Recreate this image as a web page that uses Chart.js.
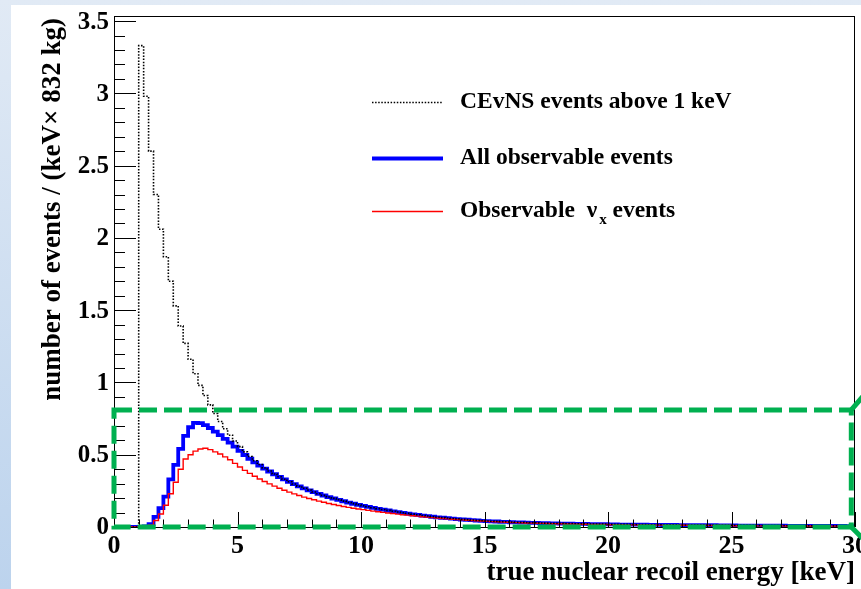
<!DOCTYPE html>
<html>
<head>
<meta charset="utf-8">
<script src="https://cdn.jsdelivr.net/npm/chart.js@4.4.1/dist/chart.umd.min.js"></script>
<style>
  html, body { margin: 0; padding: 0; }
  body {
    width: 861px; height: 589px; overflow: hidden; position: relative;
    background: linear-gradient(to bottom, #e1eaf5, #bcd3ed);
  }
  #panel { position: absolute; left: 11px; top: 5px; right: 0; bottom: 0; background: #fff; }
  #chart { position: absolute; left: 0; top: 0; }
</style>
</head>
<body>
<div id="panel"></div>
<canvas id="chart" width="861" height="589"></canvas>
<script>
// Recoil spectra, 0.2 keV bins from 0 to 30 keV (value = events per bin)
const binWidth = 0.2;

// CEvNS events above 1 keV
const cevnsAbove1keV = [
  0, 0, 0, 0, 0, 3.33, 2.98, 2.60, 2.30, 2.06,
  1.87, 1.70, 1.53, 1.39, 1.27, 1.16, 1.06, 0.98, 0.91, 0.845,
  0.785, 0.73, 0.68, 0.635, 0.595, 0.556, 0.52, 0.488, 0.458, 0.432,
  0.408, 0.387, 0.367, 0.348, 0.330, 0.313, 0.297, 0.282, 0.268, 0.255,
  0.242, 0.230, 0.219, 0.208, 0.198, 0.188, 0.179, 0.170, 0.162, 0.154,
  0.147, 0.140, 0.133, 0.127, 0.121, 0.115, 0.109, 0.104, 0.099, 0.094,
  0.089, 0.085, 0.080, 0.076, 0.072, 0.068, 0.065, 0.062, 0.059, 0.056,
  0.053, 0.051, 0.048, 0.046, 0.044, 0.042, 0.040, 0.039, 0.037, 0.036,
  0.034, 0.033, 0.032, 0.031, 0.030, 0.029, 0.028, 0.027, 0.026, 0.026,
  0.025, 0.024, 0.024, 0.023, 0.022, 0.022, 0.021, 0.021, 0.020, 0.020,
  0.019, 0.019, 0.018, 0.018, 0.018, 0.017, 0.017, 0.017, 0.016, 0.016,
  0.016, 0.015, 0.015, 0.015, 0.014, 0.014, 0.014, 0.014, 0.013, 0.013,
  0.013, 0.013, 0.012, 0.012, 0.012, 0.012, 0.011, 0.011, 0.011, 0.011,
  0.011, 0.010, 0.010, 0.010, 0.010, 0.010, 0.009, 0.009, 0.009, 0.009,
  0.009, 0.009, 0.008, 0.008, 0.008, 0.008, 0.008, 0.007, 0.007, 0.007
];

// All observable events
const allObservable = [
  0, 0, 0, 0, 0, 0, 0.004, 0.02, 0.07, 0.13,
  0.21, 0.33, 0.43, 0.54, 0.63, 0.69, 0.72, 0.718, 0.705, 0.685,
  0.66, 0.636, 0.61, 0.583, 0.556, 0.527, 0.498, 0.472, 0.447, 0.425,
  0.404, 0.384, 0.365, 0.346, 0.329, 0.312, 0.296, 0.281, 0.267, 0.254,
  0.241, 0.229, 0.218, 0.207, 0.197, 0.187, 0.178, 0.169, 0.161, 0.153,
  0.146, 0.139, 0.132, 0.126, 0.120, 0.114, 0.108, 0.103, 0.098, 0.093,
  0.088, 0.084, 0.079, 0.075, 0.071, 0.067, 0.064, 0.061, 0.058, 0.055,
  0.052, 0.050, 0.047, 0.045, 0.043, 0.041, 0.039, 0.038, 0.036, 0.035,
  0.033, 0.032, 0.031, 0.030, 0.029, 0.028, 0.027, 0.026, 0.025, 0.025,
  0.024, 0.023, 0.023, 0.022, 0.021, 0.021, 0.020, 0.020, 0.019, 0.019,
  0.018, 0.018, 0.017, 0.017, 0.017, 0.016, 0.016, 0.016, 0.015, 0.015,
  0.015, 0.014, 0.014, 0.014, 0.013, 0.013, 0.013, 0.013, 0.012, 0.012,
  0.012, 0.012, 0.011, 0.011, 0.011, 0.011, 0.010, 0.010, 0.010, 0.010,
  0.010, 0.009, 0.009, 0.009, 0.009, 0.009, 0.008, 0.008, 0.008, 0.008,
  0.008, 0.008, 0.007, 0.007, 0.007, 0.007, 0.007, 0.007, 0.006, 0.006
];

// Observable nu_x events
const observableNuX = [
  0, 0, 0, 0, 0, 0, 0.003, 0.012, 0.045, 0.09,
  0.15, 0.23, 0.31, 0.40, 0.47, 0.50, 0.525, 0.54, 0.545, 0.535,
  0.52, 0.505, 0.485, 0.465, 0.44, 0.415, 0.392, 0.371, 0.351, 0.332,
  0.315, 0.298, 0.283, 0.268, 0.254, 0.241, 0.229, 0.218, 0.207, 0.197,
  0.188, 0.179, 0.171, 0.163, 0.156, 0.149, 0.142, 0.136, 0.130, 0.125,
  0.120, 0.115, 0.110, 0.105, 0.101, 0.097, 0.093, 0.089, 0.085, 0.082,
  0.078, 0.075, 0.071, 0.068, 0.065, 0.062, 0.059, 0.056, 0.054, 0.051,
  0.049, 0.047, 0.045, 0.043, 0.041, 0.039, 0.037, 0.036, 0.034, 0.033,
  0.031, 0.030, 0.029, 0.028, 0.027, 0.026, 0.025, 0.024, 0.023, 0.023,
  0.022, 0.021, 0.021, 0.020, 0.019, 0.019, 0.018, 0.018, 0.017, 0.017,
  0.016, 0.016, 0.016, 0.015, 0.015, 0.015, 0.014, 0.014, 0.014, 0.013,
  0.013, 0.013, 0.013, 0.012, 0.012, 0.012, 0.011, 0.011, 0.011, 0.011,
  0.010, 0.010, 0.010, 0.010, 0.010, 0.009, 0.009, 0.009, 0.009, 0.009,
  0.008, 0.008, 0.008, 0.008, 0.008, 0.008, 0.007, 0.007, 0.007, 0.007,
  0.007, 0.007, 0.006, 0.006, 0.006, 0.006, 0.006, 0.006, 0.005, 0.005
];

const xTickValues = [0, 5, 10, 15, 20, 25, 30];
const xTickLabels = ['0', '5', '10', '15', '20', '25', '30'];
const yTickValues = [0, 0.5, 1, 1.5, 2, 2.5, 3, 3.5];
const yTickLabels = ['0', '0.5', '1', '1.5', '2', '2.5', '3', '3.5'];

const xTitle = 'true nuclear recoil energy [keV]';
const yTitle = 'number of events / (keV\u00d7 832 kg)';

// region of interest marked with a dashed box (data units)
const roi = { xMin: 0, xMax: 29.85, yMin: 0, yMax: 0.81 };

const SERIF = '"Liberation Serif", "Times New Roman", serif';

const styles = {
  cevns: { color: 'rgb(0,0,0)', width: 1.6, dash: [1.5, 1.6] },
  all: { color: 'rgb(0,0,255)', width: 3.8, dash: [] },
  nux: { color: 'rgb(255,0,0)', width: 1.4, dash: [] }
};

// histogram outline: one point per left bin edge plus the closing edge
function histPoints(values) {
  const pts = values.map((v, i) => ({ x: +(i * binWidth).toFixed(2), y: v }));
  pts.push({ x: +(values.length * binWidth).toFixed(2), y: values[values.length - 1] });
  return pts;
}

// ROOT-style frame, inward ticks, tick labels and axis titles
const rootAxes = {
  id: 'rootAxes',
  afterDatasetsDraw(chart) {
    const { ctx, chartArea: a, scales: { x, y } } = chart;
    ctx.save();
    ctx.strokeStyle = '#000';
    ctx.lineWidth = 1;
    ctx.strokeRect(a.left + 0.5, a.top + 0.5, a.right - a.left - 1, a.bottom - a.top);

    ctx.beginPath();
    for (let v = 0; v <= 30; v++) {
      const px = Math.round(x.getPixelForValue(v)) + 0.5;
      const len = v % 5 === 0 ? 15 : 7.5;
      ctx.moveTo(px, a.bottom);
      ctx.lineTo(px, a.bottom - len);
    }
    for (let k = 0; k <= 35; k++) {
      const py = Math.round(y.getPixelForValue(k / 10)) + 0.5;
      const len = k % 5 === 0 ? 22 : 11;
      ctx.moveTo(a.left, py);
      ctx.lineTo(a.left + len, py);
    }
    ctx.stroke();

    ctx.fillStyle = '#000';
    ctx.font = 'bold 26px ' + SERIF;
    ctx.textAlign = 'center';
    ctx.textBaseline = 'middle';
    xTickValues.forEach((v, i) => ctx.fillText(xTickLabels[i], x.getPixelForValue(v), a.bottom + 19));

    ctx.font = 'bold 25px ' + SERIF;
    ctx.textAlign = 'right';
    yTickValues.forEach((v, i) => ctx.fillText(yTickLabels[i], a.left - 5, y.getPixelForValue(v) + 1));

    ctx.font = 'bold 27px ' + SERIF;
    ctx.textBaseline = 'alphabetic';
    ctx.textAlign = 'right';
    ctx.fillText(xTitle, a.right, a.bottom + 53);

    ctx.save();
    ctx.translate(60, a.top + 2);
    ctx.rotate(-Math.PI / 2);
    ctx.font = 'bold 27px ' + SERIF;
    ctx.textAlign = 'right';
    ctx.fillText(yTitle, 0, 0);
    ctx.restore();
    ctx.restore();
  }
};

// legend drawn inside the frame, with a subscript on nu
const legendRows = [
  { key: 'cevns', y: 102, text: ['CEvNS events above 1 keV'] },
  { key: 'all', y: 158, text: ['All observable events'] },
  { key: 'nux', y: 211, text: ['Observable  \u03bd', 'x', ' events'] }
];

const rootLegend = {
  id: 'rootLegend',
  afterDraw(chart) {
    const { ctx } = chart;
    legendRows.forEach(row => {
      const st = styles[row.key];
      ctx.save();
      ctx.beginPath();
      ctx.setLineDash(st.dash);
      ctx.strokeStyle = st.color;
      ctx.lineWidth = st.width;
      ctx.moveTo(372, row.y + 0.5);
      ctx.lineTo(443, row.y + 0.5);
      ctx.stroke();
      ctx.restore();

      ctx.save();
      ctx.fillStyle = '#000';
      ctx.textAlign = 'left';
      ctx.textBaseline = 'middle';
      ctx.font = 'bold 23.5px ' + SERIF;
      let tx = 460;
      ctx.fillText(row.text[0], tx, row.y);
      if (row.text.length > 1) {
        tx += ctx.measureText(row.text[0]).width + 2;
        ctx.font = 'bold 15px ' + SERIF;
        ctx.fillText(row.text[1], tx, row.y + 9);
        tx += ctx.measureText(row.text[1]).width;
        ctx.font = 'bold 23.5px ' + SERIF;
        ctx.fillText(row.text[2], tx, row.y);
      }
      ctx.restore();
    });
  }
};

// dashed green box over the low-rate region, with its leader lines
const roiBox = {
  id: 'roiBox',
  afterDraw(chart) {
    const { ctx, scales: { x, y } } = chart;
    const x0 = x.getPixelForValue(roi.xMin), x1 = x.getPixelForValue(roi.xMax);
    const y0 = y.getPixelForValue(roi.yMax), y1 = y.getPixelForValue(roi.yMin);
    ctx.save();
    ctx.strokeStyle = '#00b050';
    ctx.lineWidth = 5;
    ctx.setLineDash([18, 7]);
    ctx.strokeRect(x0, y0, x1 - x0, y1 - y0);
    ctx.setLineDash([]);
    ctx.beginPath();
    ctx.moveTo(x1, y0);
    ctx.lineTo(x1 + 12, y0 - 14);
    ctx.moveTo(x1, y1);
    ctx.lineTo(x1 + 12, y1 + 12);
    ctx.stroke();
    ctx.restore();
  }
};

new Chart(document.getElementById('chart').getContext('2d'), {
  type: 'line',
  data: {
    datasets: [{
      label: 'CEvNS events above 1 keV',
      data: histPoints(cevnsAbove1keV),
      borderColor: styles.cevns.color,
      borderWidth: styles.cevns.width,
      borderDash: styles.cevns.dash,
      stepped: 'before',
      pointRadius: 0,
      order: 1
    }, {
      label: 'All observable events',
      data: histPoints(allObservable),
      borderColor: styles.all.color,
      borderWidth: styles.all.width,
      stepped: 'before',
      pointRadius: 0,
      order: 3
    }, {
      label: 'Observable \u03bdx events',
      data: histPoints(observableNuX),
      borderColor: styles.nux.color,
      borderWidth: styles.nux.width,
      stepped: 'before',
      pointRadius: 0,
      order: 2
    }]
  },
  options: {
    responsive: false,
    animation: false,
    devicePixelRatio: 1,
    layout: { padding: { left: 114, top: 16, right: 6, bottom: 62 } },
    scales: {
      x: { type: 'linear', min: 0, max: 30, display: false },
      y: { type: 'linear', min: 0, max: 3.535, display: false }
    },
    plugins: { legend: { display: false }, tooltip: { enabled: false } }
  },
  plugins: [rootAxes, rootLegend, roiBox]
});
</script>
</body>
</html>
